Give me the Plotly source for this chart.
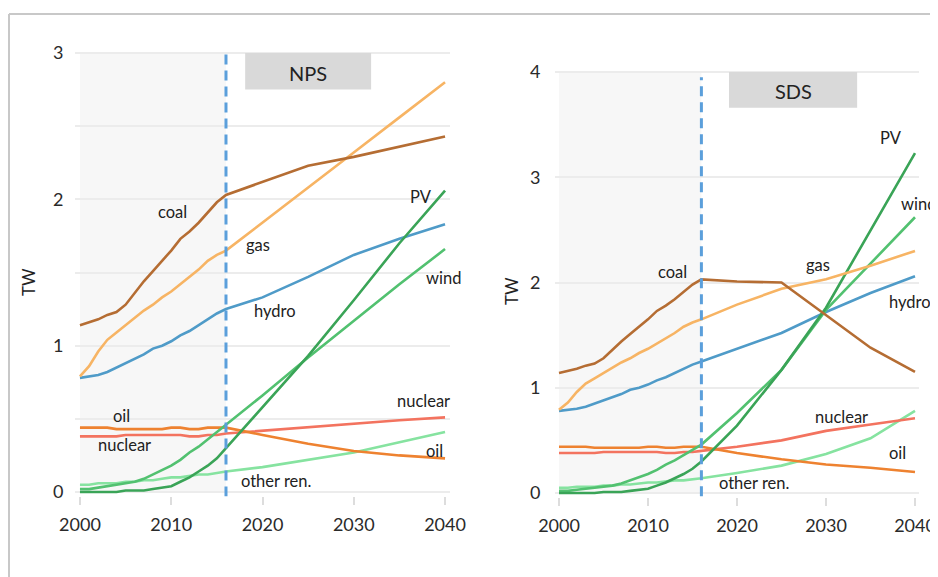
import plotly.graph_objects as go

# ---------------- data ----------------
hist_years = list(range(2000, 2017))
proj_years = [2020, 2025, 2030, 2035, 2040]

coal_hist = [1.14, 1.16, 1.18, 1.21, 1.23, 1.28, 1.36, 1.44, 1.51, 1.58, 1.65, 1.73, 1.78, 1.84, 1.91, 1.98, 2.03]
gas_hist = [0.79, 0.86, 0.96, 1.04, 1.09, 1.14, 1.19, 1.24, 1.28, 1.33, 1.37, 1.42, 1.47, 1.52, 1.58, 1.62, 1.65]
hydro_hist = [0.78, 0.79, 0.80, 0.82, 0.85, 0.88, 0.91, 0.94, 0.98, 1.00, 1.03, 1.07, 1.10, 1.14, 1.18, 1.22, 1.25]
oil_hist = [0.44, 0.44, 0.44, 0.44, 0.43, 0.43, 0.43, 0.43, 0.43, 0.43, 0.44, 0.44, 0.43, 0.43, 0.44, 0.44, 0.44]
nuclear_hist = [0.38, 0.38, 0.38, 0.38, 0.38, 0.39, 0.39, 0.39, 0.39, 0.39, 0.39, 0.39, 0.38, 0.38, 0.39, 0.39, 0.40]
pv_hist = [0.00, 0.00, 0.00, 0.00, 0.00, 0.01, 0.01, 0.01, 0.02, 0.03, 0.04, 0.07, 0.10, 0.14, 0.18, 0.23, 0.30]
wind_hist = [0.02, 0.02, 0.03, 0.04, 0.05, 0.06, 0.07, 0.09, 0.12, 0.15, 0.18, 0.22, 0.27, 0.31, 0.36, 0.41, 0.46]
other_hist = [0.05, 0.05, 0.06, 0.06, 0.06, 0.07, 0.07, 0.08, 0.08, 0.09, 0.10, 0.10, 0.11, 0.12, 0.12, 0.13, 0.14]

# New Policies Scenario projections
coal_nps = [2.12, 2.23, 2.29, 2.36, 2.43]
gas_nps = [1.84, 2.08, 2.32, 2.56, 2.80]
hydro_nps = [1.33, 1.47, 1.62, 1.73, 1.83]
oil_nps = [0.39, 0.33, 0.28, 0.25, 0.23]
nuclear_nps = [0.42, 0.44, 0.47, 0.49, 0.51]
pv_nps = [0.58, 0.93, 1.31, 1.70, 2.06]
wind_nps = [0.66, 0.92, 1.17, 1.42, 1.66]
other_nps = [0.17, 0.22, 0.27, 0.34, 0.41]

# Sustainable Development Scenario projections
coal_sds = [2.01, 2.00, 1.69, 1.38, 1.15]
gas_sds = [1.79, 1.94, 2.03, 2.16, 2.30]
hydro_sds = [1.37, 1.52, 1.72, 1.90, 2.06]
oil_sds = [0.38, 0.32, 0.27, 0.24, 0.20]
nuclear_sds = [0.44, 0.50, 0.59, 0.65, 0.71]
pv_sds = [0.64, 1.17, 1.76, 2.50, 3.23]
wind_sds = [0.76, 1.17, 1.74, 2.18, 2.62]
other_sds = [0.19, 0.26, 0.37, 0.52, 0.78]

series_names = ["other ren.", "nuclear", "oil", "hydro", "wind", "PV", "gas", "coal"]
hist_data = [other_hist, nuclear_hist, oil_hist, hydro_hist, wind_hist, pv_hist, gas_hist, coal_hist]
nps_data = [other_nps, nuclear_nps, oil_nps, hydro_nps, wind_nps, pv_nps, gas_nps, coal_nps]
sds_data = [other_sds, nuclear_sds, oil_sds, hydro_sds, wind_sds, pv_sds, gas_sds, coal_sds]

x_ticks = [2000, 2010, 2020, 2030, 2040]
base_year = 2016

# ---------------- style ----------------
colors = {
    "coal": "#b56d33",
    "gas": "#f7b464",
    "hydro": "#4f9bc8",
    "oil": "#ee8230",
    "nuclear": "#f3735f",
    "PV": "#3aa457",
    "wind": "#52c170",
    "other ren.": "#86e3a0",
}
FONT = "Lato"
OX, OY = 8, 8   # page body margin offset
W, H = 938 - OX, 577 - OY

fig = go.Figure()
for ax, proj in (("", nps_data), ("2", sds_data)):
    for name, h, p in zip(series_names, hist_data, proj):
        fig.add_trace(go.Scatter(
            x=hist_years + proj_years, y=h + p, mode="lines", name=name,
            line=dict(color=colors[name], width=2.6),
            xaxis="x" + ax, yaxis="y" + ax, showlegend=False, hoverinfo="x+y+name"))

def px(x):
    return (x - OX) / W

def py(y):
    return 1 - (y - OY) / H

axis_common = dict(showline=False, zeroline=False, automargin=False,
                   tickfont=dict(family=FONT, size=18, color="#2a2a2a"))

fig.update_layout(
    width=W, height=H, margin=dict(l=0, r=0, t=0, b=0, autoexpand=False),
    paper_bgcolor="white", plot_bgcolor="white",
    xaxis=dict(domain=[px(75.4), px(449.6)], range=[1999.5, 2040.5], tickvals=x_ticks,
               showgrid=False, ticks="outside", ticklen=8, tickcolor="#dddddd", tickwidth=1.5,
               ticklabelstandoff=4, anchor="y", **axis_common),
    yaxis=dict(domain=[py(496.4), py(48.6)], range=[-0.03, 3.03],
               tickvals=[0, 0.5, 1, 1.5, 2, 2.5, 3], ticktext=["0", "", "1", "", "2", "", "3"],
               showgrid=True, gridcolor="#ececec", gridwidth=1.5, ticks="", ticklabelstandoff=11,
               anchor="x", **axis_common),
    xaxis2=dict(domain=[px(554.55), px(919.45)], range=[1999.5, 2040.5], tickvals=x_ticks,
                showgrid=False, ticks="outside", ticklen=8, tickcolor="#dddddd", tickwidth=1.5,
                ticklabelstandoff=4, anchor="y2", **axis_common),
    yaxis2=dict(domain=[py(497.2), py(67.8)], range=[-0.04, 4.04],
                tickvals=[0, 1, 2, 3, 4], showgrid=True, gridcolor="#ececec", gridwidth=1.5,
                ticks="", ticklabelstandoff=13, anchor="x2", **axis_common),
)

shapes = []
# zero lines, history shading, dashed base-year lines, scenario boxes
for xr, yr, ytop, dash_top, box in (("x", "y", 3.0, 3.0, (2018.1, 2031.9, 2.75, 3.0)),
                                    ("x2", "y2", 4.0, 3.95, (2019.1, 2033.5, 3.66, 4.0))):
    shapes.append(dict(type="rect", xref=xr, yref=yr, x0=2000, x1=base_year, y0=0, y1=ytop,
                       fillcolor="#f7f7f7", line=dict(width=0), layer="below"))
    shapes.append(dict(type="line", xref=xr, yref=yr, x0=2000, x1=2040, y0=0, y1=0,
                       line=dict(color="#d9d9d9", width=1.5), layer="below"))
    shapes.append(dict(type="line", xref=xr, yref=yr, x0=base_year, x1=base_year, y0=-0.03, y1=dash_top,
                       line=dict(color="#5b9fdb", width=3, dash="10px,6px")))
    shapes.append(dict(type="rect", xref=xr, yref=yr, x0=box[0], x1=box[1], y0=box[2], y1=box[3],
                       fillcolor="#d9d9d9", line=dict(width=0)))
# frame
shapes.append(dict(type="line", xref="paper", yref="paper", x0=px(9), x1=1, y0=py(14), y1=py(14),
                   line=dict(color="#c8c8c8", width=2)))
shapes.append(dict(type="line", xref="paper", yref="paper", x0=px(9), x1=px(9), y0=py(14), y1=0,
                   line=dict(color="#c8c8c8", width=2)))
fig.update_layout(shapes=shapes)

labels = [
    # left panel
    ("coal", 172, 212), ("gas", 258, 245), ("PV", 421, 197), ("wind", 443, 278),
    ("hydro", 275, 311), ("nuclear", 423, 401), ("oil", 121, 416), ("nuclear", 124, 445),
    ("oil", 434, 451), ("other ren.", 276, 481),
    # right panel
    ("coal", 672, 272), ("gas", 818, 265), ("PV", 891, 138), ("wind", 918, 204),
    ("hydro", 910, 302), ("nuclear", 841, 417), ("oil", 897, 453), ("other ren.", 754, 483),
]
annotations = []
for text, x, y in labels:
    annotations.append(dict(text=text, x=px(x), y=py(y), xref="paper", yref="paper",
                            showarrow=False, xanchor="center", yanchor="middle",
                            font=dict(family=FONT, size=16.5, color="#222")))
for text, x, y in (("NPS", 308, 73), ("SDS", 793, 91)):
    annotations.append(dict(text=text, x=px(x), y=py(y), xref="paper", yref="paper", showarrow=False,
                            xanchor="center", yanchor="middle",
                            font=dict(family=FONT, size=20, color="#222")))
for x, y in ((28, 282), (511, 291)):
    annotations.append(dict(text="TW", x=px(x), y=py(y), xref="paper", yref="paper", showarrow=False,
                            xanchor="center", yanchor="middle", textangle=-90,
                            font=dict(family=FONT, size=17, color="#222")))
fig.update_layout(annotations=annotations)

fig.write_html("out.html")
